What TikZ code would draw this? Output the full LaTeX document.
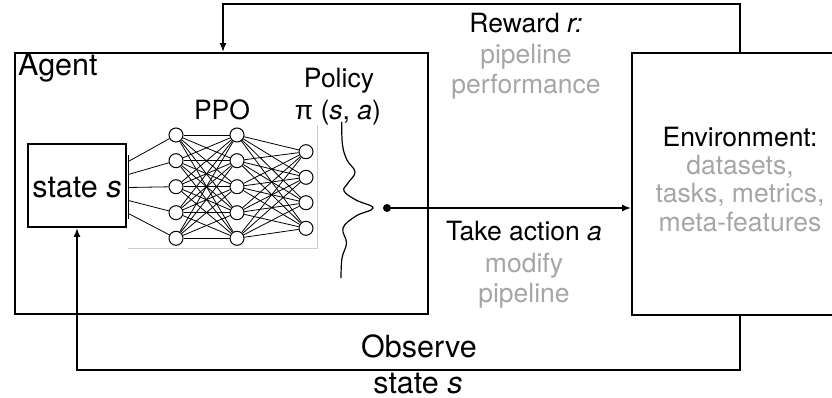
\documentclass[tikz,border=0pt]{standalone}
\usepackage{fontspec}
\setmainfont{TeX Gyre Heros}
\newfontfamily\greekfont{Liberation Sans}
\usetikzlibrary{arrows.meta,backgrounds}
\definecolor{softgray}{RGB}{166,166,166}
\definecolor{framegray}{RGB}{205,205,205}
\tikzset{
  box/.style={draw, line width=1.8pt, rectangle, inner sep=0pt},
  flow/.style={line width=1.8pt, -{Latex[length=9pt,width=7pt]}},
  neuron/.style={draw, circle, fill=white, line width=1pt, inner sep=0pt, minimum size=14pt},
  synapse/.style={line width=0.8pt},
  small/.style={font=\fontsize{26.5}{30}\selectfont, inner sep=0pt, anchor=base},
  big/.style={font=\fontsize{30.5}{34}\selectfont, inner sep=0pt, anchor=base},
  soft/.style={small, text=softgray},
}
\begin{document}
\begin{tikzpicture}[x=1pt, y=-1pt]
\useasboundingbox (0,0) rectangle (832,398);

% main blocks
\node[box, minimum width=413pt, minimum height=261pt] (agent) at (221.5,183.5) {};
\node[box, minimum width=220pt, minimum height=262pt] (env) at (742,184) {};
\node[box, minimum width=98pt, minimum height=83pt] (state) at (77,185.5) {};

\node[big, anchor=base west] (agentlbl) at (18,76) {Agent};
\node[big] (statelbl) at (77,197) {state \textit{s}};

% faint frame of the network panel
\draw[framegray, line width=0.8pt] (128,248) -- (317,248) -- (317,125);
\draw[line width=1pt] (128,155) -- (128,219);

% network: input taps, two hidden layers, output layer
\foreach \i in {1,...,5} {
  \coordinate (in\i) at (128,{161.7+(\i-1)*12.9});
}
\foreach \i/\y in {1/135,2/160.7,3/186.7,4/212.7,5/238.3} {
  \node[neuron] (a\i) at (176,\y) {};
  \node[neuron] (b\i) at (237,\y) {};
}
\foreach \k/\y in {1/151.7,2/177.3,3/202.7,4/228.3} {
  \node[neuron] (c\k) at (306,\y) {};
}
\begin{scope}[on background layer]
\foreach \i in {1,...,5} {
  \draw[synapse] (in\i) -- (a\i);
  \foreach \j in {1,...,5} { \draw[synapse] (a\i) -- (b\j); }
  \foreach \k in {1,...,4} { \draw[synapse] (b\i) -- (c\k); }
}
\end{scope}

\node[small] (ppo) at (222,120) {PPO};
\node[small] (policy) at (339,88) {Policy};
\node[small] (pi) at (338,120) {{\greekfont π} (\textit{s}, \textit{a})};

% policy distribution
\draw[line width=1.2pt] plot[smooth, tension=0.65] coordinates {
  (341.7,122) (342.5,145) (347,160) (355,172) (348,183) (344,191)
  (356,200) (373,208) (356,216) (343,228) (346.5,243) (342,258) (341,278)};

% chosen action
\node[circle, fill, inner sep=0pt, minimum size=8pt] (act) at (387,208) {};
\draw[flow] (act) -- (env.west |- act);
\node[small] (take) at (524,240) {Take action \textit{a}};
\node[soft] (mod1) at (524,272) {modify};
\node[soft] (mod2) at (524,302) {pipeline};

% reward loop
\coordinate (rr) at (740,4);
\coordinate (rl) at (223,4);
\draw[flow] (rr |- env.north) -- (rr) -- (rl) -- (rl |- agent.north);
\node[small] (reward) at (526,33) {Reward \textit{r:}};
\node[soft] (rew1) at (526,64) {pipeline};
\node[soft] (rew2) at (526,94) {performance};

% observation loop
\coordinate (or) at (740,370);
\coordinate (ol) at (77,370);
\draw[flow] (or |- env.south) -- (or) -- (ol) -- (ol |- state.south);
\node[big] (obs1) at (419,357) {Observe};
\node[big] (obs2) at (418,393) {state \textit{s}};

% environment contents
\node[small] (envlbl) at (740,147) {Environment:};
\node[soft] (env1) at (740,175) {datasets,};
\node[soft] (env2) at (740,203) {tasks, metrics,};
\node[soft] (env3) at (740,231) {meta-features};
\end{tikzpicture}
\end{document}
